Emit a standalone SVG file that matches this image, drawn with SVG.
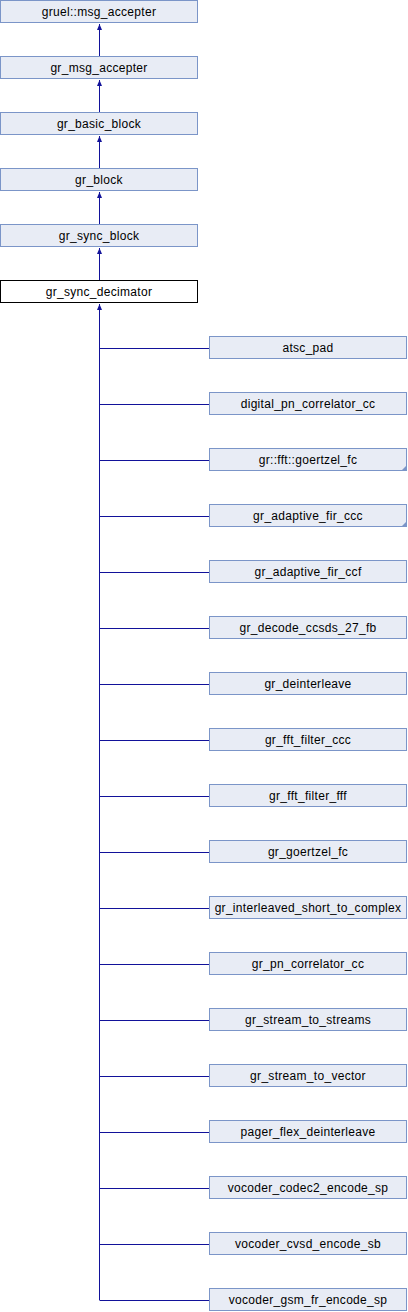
<svg xmlns="http://www.w3.org/2000/svg" width="408" height="1312" viewBox="0 0 408 1312">
<style>
.n rect{fill:#e8ecf5;stroke:#7b95c8;stroke-width:1}
.cur rect{fill:#ffffff;stroke:#000000;stroke-width:1}
text{font-family:"Liberation Sans",Arial,sans-serif;font-size:12px;letter-spacing:0.3px;text-anchor:middle;fill:#000}
.e{stroke:#12129a;stroke-width:1;fill:none}
.more{fill:#7b95c8}
</style>
<defs>
<marker id="ah" markerUnits="userSpaceOnUse" markerWidth="6" markerHeight="6" refX="6" refY="3" orient="auto">
<path d="M0,0.5 L6,3 L0,5.5 z" fill="#12129a"/>
</marker>
</defs>
<g id="connectors">
<path class="e" d="M99.5,56 V24" marker-end="url(#ah)"/>
<path class="e" d="M99.5,112 V80" marker-end="url(#ah)"/>
<path class="e" d="M99.5,168 V136" marker-end="url(#ah)"/>
<path class="e" d="M99.5,224 V192" marker-end="url(#ah)"/>
<path class="e" d="M99.5,280 V248" marker-end="url(#ah)"/>
<path class="e" d="M99.5,1300 V304" marker-end="url(#ah)"/>
<path class="e" d="M99.5,348.5 H209 M99.5,404.5 H209 M99.5,460.5 H209 M99.5,516.5 H209 M99.5,572.5 H209 M99.5,628.5 H209 M99.5,684.5 H209 M99.5,740.5 H209 M99.5,796.5 H209 M99.5,852.5 H209 M99.5,908.5 H209 M99.5,964.5 H209 M99.5,1020.5 H209 M99.5,1076.5 H209 M99.5,1132.5 H209 M99.5,1188.5 H209 M99.5,1244.5 H209 M99.5,1300.5 H209"/>
</g>
<g id="n_gruel_msg_accepter" class="n"><rect x="0.5" y="0.5" width="197" height="22"/><text x="99" y="16">gruel::msg_accepter</text></g>
<g id="n_gr_msg_accepter" class="n"><rect x="0.5" y="56.5" width="197" height="22"/><text x="99" y="72">gr_msg_accepter</text></g>
<g id="n_gr_basic_block" class="n"><rect x="0.5" y="112.5" width="197" height="22"/><text x="99" y="128">gr_basic_block</text></g>
<g id="n_gr_block" class="n"><rect x="0.5" y="168.5" width="197" height="22"/><text x="99" y="184">gr_block</text></g>
<g id="n_gr_sync_block" class="n"><rect x="0.5" y="224.5" width="197" height="22"/><text x="99" y="240">gr_sync_block</text></g>
<g id="n_gr_sync_decimator" class="cur"><rect x="0.5" y="280.5" width="197" height="22"/><text x="99" y="296">gr_sync_decimator</text></g>
<g id="c_atsc_pad" class="n"><rect x="209.5" y="336.5" width="197" height="22"/><text x="308" y="352">atsc_pad</text></g>
<g id="c_digital_pn_correlator_cc" class="n"><rect x="209.5" y="392.5" width="197" height="22"/><text x="308" y="408">digital_pn_correlator_cc</text></g>
<g id="c_gr_fft_goertzel_fc" class="n"><rect x="209.5" y="448.5" width="197" height="22"/><text x="308" y="464">gr::fft::goertzel_fc</text><path class="more" d="M401,471 H407 V465 z"/></g>
<g id="c_gr_adaptive_fir_ccc" class="n"><rect x="209.5" y="504.5" width="197" height="22"/><text x="308" y="520">gr_adaptive_fir_ccc</text><path class="more" d="M401,527 H407 V521 z"/></g>
<g id="c_gr_adaptive_fir_ccf" class="n"><rect x="209.5" y="560.5" width="197" height="22"/><text x="308" y="576">gr_adaptive_fir_ccf</text></g>
<g id="c_gr_decode_ccsds_27_fb" class="n"><rect x="209.5" y="616.5" width="197" height="22"/><text x="308" y="632">gr_decode_ccsds_27_fb</text></g>
<g id="c_gr_deinterleave" class="n"><rect x="209.5" y="672.5" width="197" height="22"/><text x="308" y="688">gr_deinterleave</text></g>
<g id="c_gr_fft_filter_ccc" class="n"><rect x="209.5" y="728.5" width="197" height="22"/><text x="308" y="744">gr_fft_filter_ccc</text></g>
<g id="c_gr_fft_filter_fff" class="n"><rect x="209.5" y="784.5" width="197" height="22"/><text x="308" y="800">gr_fft_filter_fff</text></g>
<g id="c_gr_goertzel_fc" class="n"><rect x="209.5" y="840.5" width="197" height="22"/><text x="308" y="856">gr_goertzel_fc</text></g>
<g id="c_gr_interleaved_short_to_complex" class="n"><rect x="209.5" y="896.5" width="197" height="22"/><text x="308" y="912">gr_interleaved_short_to_complex</text></g>
<g id="c_gr_pn_correlator_cc" class="n"><rect x="209.5" y="952.5" width="197" height="22"/><text x="308" y="968">gr_pn_correlator_cc</text></g>
<g id="c_gr_stream_to_streams" class="n"><rect x="209.5" y="1008.5" width="197" height="22"/><text x="308" y="1024">gr_stream_to_streams</text></g>
<g id="c_gr_stream_to_vector" class="n"><rect x="209.5" y="1064.5" width="197" height="22"/><text x="308" y="1080">gr_stream_to_vector</text></g>
<g id="c_pager_flex_deinterleave" class="n"><rect x="209.5" y="1120.5" width="197" height="22"/><text x="308" y="1136">pager_flex_deinterleave</text></g>
<g id="c_vocoder_codec2_encode_sp" class="n"><rect x="209.5" y="1176.5" width="197" height="22"/><text x="308" y="1192">vocoder_codec2_encode_sp</text></g>
<g id="c_vocoder_cvsd_encode_sb" class="n"><rect x="209.5" y="1232.5" width="197" height="22"/><text x="308" y="1248">vocoder_cvsd_encode_sb</text></g>
<g id="c_vocoder_gsm_fr_encode_sp" class="n"><rect x="209.5" y="1288.5" width="197" height="22"/><text x="308" y="1304">vocoder_gsm_fr_encode_sp</text></g>
</svg>
